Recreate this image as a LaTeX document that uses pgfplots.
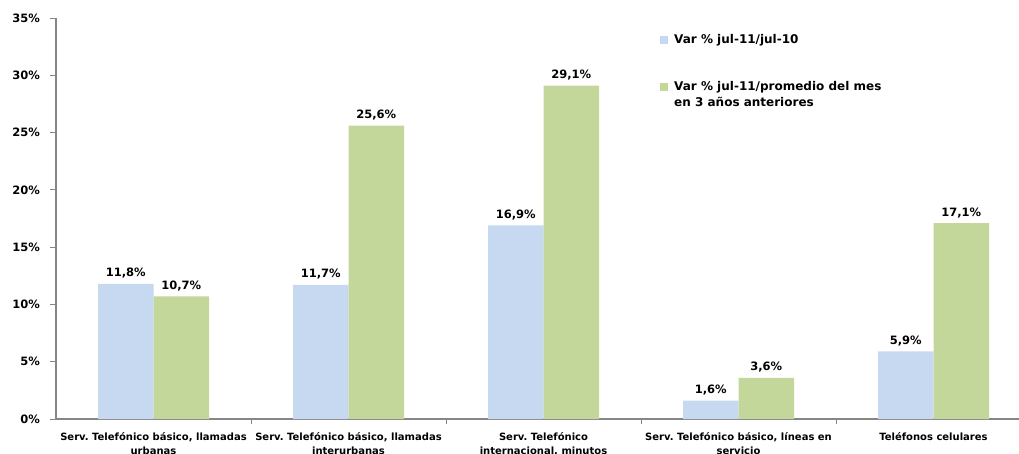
\documentclass[border=0pt]{standalone}
\usepackage{pgfplots}
\pgfplotsset{compat=1.18}
\usepackage{fontspec}
\setmainfont{DejaVu Sans}
\definecolor{barblue}{HTML}{C6D9F1}
\definecolor{bargreen}{HTML}{C4D79B}
\definecolor{axgray}{HTML}{868686}
\pgfplotsset{sqlegend/.style={legend image code/.code={\fill[##1] (0pt,-4pt) rectangle (8pt,4pt);}}}
\frenchspacing
\begin{document}
\begin{tikzpicture}
\path[use as bounding box] (0pt,0pt) rectangle (1019pt,-453pt);
\clip (0pt,0pt) rectangle (1019pt,-453pt);
\begin{axis}[
  scale only axis, width=975pt, height=401pt,
  anchor=south west, at={(56pt,-419pt)},
  xmin=-0.5, xmax=4.5, ymin=0, ymax=35,
  axis lines=left,
  axis line style={-, draw=axgray, line width=1.5pt},
  tick align=outside,
  major tick length=6pt,
  minor tick length=5pt,
  ytick={0,5,...,35},
  yticklabels={0\%,5\%,10\%,15\%,20\%,25\%,30\%,35\%},
  ytick style={draw=axgray, line width=1pt},
  yticklabel style={font=\fontsize{11.5}{13}\selectfont\bfseries, anchor=east, inner sep=0pt, xshift=-10pt},
  xtick={0,1,2,3,4},
  major x tick style={draw=none},
  minor xtick={0.5,1.5,2.5,3.5},
  minor x tick style={draw=axgray, line width=1pt},
  xticklabels={{Serv. Telefónico básico, llamadas\\urbanas},{Serv. Telefónico básico, llamadas\\interurbanas},{Serv. Telefónico\\internacional, minutos},{Serv. Telefónico básico, líneas en\\servicio},{Teléfonos celulares}},
  xticklabel style={font=\fontsize{10}{14}\selectfont\bfseries, align=center, anchor=north, inner sep=0pt, yshift=-7pt},
  nodes near coords style={font=\fontsize{11.5}{13}\selectfont\bfseries, anchor=base, inner sep=0pt, yshift=7pt},
  legend style={at={(0.6195,0.9613)}, anchor=north west, draw=none, fill=none, inner sep=0pt, row sep=2.7pt, column sep=6pt,
    font=\fontsize{12}{14}\selectfont\bfseries,
    nodes={inner sep=0pt, text height=10pt, text depth=3pt, anchor=west}},
  legend cell align=left,
]
\addplot[ybar, bar width=55.5pt, bar shift=0pt, fill=barblue, draw=none, sqlegend,
  nodes near coords, point meta=explicit symbolic]
  coordinates {(-0.1423,11.8) [11,8\%] (0.8577,11.7) [11,7\%] (1.8577,16.9) [16,9\%] (2.8577,1.6) [1,6\%] (3.8577,5.9) [5,9\%]};
\addlegendentry{Var \% jul-11/jul-10}
\addlegendimage{empty legend}
\addlegendentry{\phantom{x}}
\addlegendimage{empty legend}
\addlegendentry{\phantom{x}}
\addplot[ybar, bar width=55.5pt, bar shift=0pt, fill=bargreen, draw=none, sqlegend,
  nodes near coords, point meta=explicit symbolic]
  coordinates {(0.1423,10.7) [10,7\%] (1.1423,25.6) [25,6\%] (2.1423,29.1) [29,1\%] (3.1423,3.6) [3,6\%] (4.1423,17.1) [17,1\%]};
\addlegendentry{Var \% jul-11/promedio del mes}
\addlegendimage{empty legend}
\addlegendentry{en 3 años anteriores}
\end{axis}
\end{tikzpicture}
\end{document}
